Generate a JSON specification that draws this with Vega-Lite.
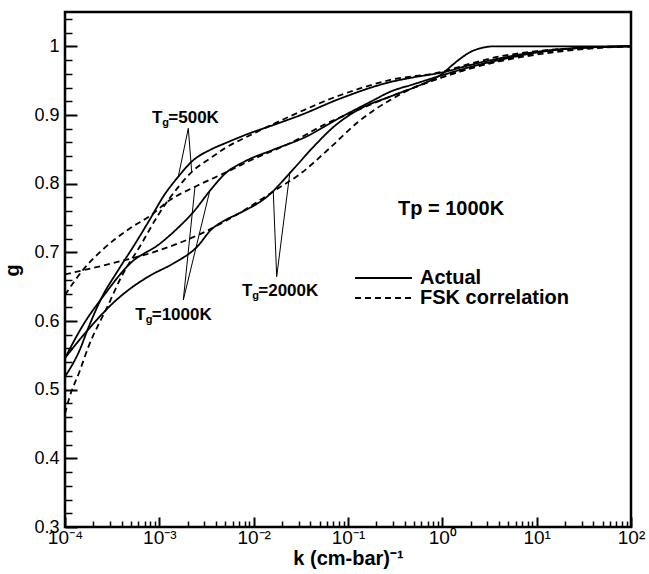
{
  "$schema": "https://vega.github.io/schema/vega-lite/v6.json",
  "width": 566,
  "height": 515,
  "autosize": {"type": "none"},
  "padding": {"left": 65, "top": 12, "right": 18, "bottom": 47},
  "background": "white",
  "config": {
    "view": {"stroke": "black", "strokeWidth": 2.5},
    "font": "Liberation Sans",
    "axis": {"grid": false, "domain": false, "tickColor": "black", "labelColor": "black", "titleColor": "black", "labelOverlap": false, "labelFlush": false, "labelBound": false, "labelFont": "Liberation Sans", "titleFont": "Liberation Sans"}
  },
  "datasets": {
    "curves": [
      {"k": 0.0001, "g": 0.519, "series": "S500", "type": "Actual"},
      {"k": 0.0001413, "g": 0.556, "series": "S500", "type": "Actual"},
      {"k": 0.0001778, "g": 0.591, "series": "S500", "type": "Actual"},
      {"k": 0.0002512, "g": 0.637, "series": "S500", "type": "Actual"},
      {"k": 0.0003548, "g": 0.671, "series": "S500", "type": "Actual"},
      {"k": 0.0005623, "g": 0.714, "series": "S500", "type": "Actual"},
      {"k": 0.0007943, "g": 0.748, "series": "S500", "type": "Actual"},
      {"k": 0.001122, "g": 0.783, "series": "S500", "type": "Actual"},
      {"k": 0.001585, "g": 0.810, "series": "S500", "type": "Actual"},
      {"k": 0.002239, "g": 0.833, "series": "S500", "type": "Actual"},
      {"k": 0.003548, "g": 0.850, "series": "S500", "type": "Actual"},
      {"k": 0.005012, "g": 0.859, "series": "S500", "type": "Actual"},
      {"k": 0.008913, "g": 0.873, "series": "S500", "type": "Actual"},
      {"k": 0.01585, "g": 0.885, "series": "S500", "type": "Actual"},
      {"k": 0.03162, "g": 0.900, "series": "S500", "type": "Actual"},
      {"k": 0.07943, "g": 0.923, "series": "S500", "type": "Actual"},
      {"k": 0.2818, "g": 0.948, "series": "S500", "type": "Actual"},
      {"k": 0.5012, "g": 0.955, "series": "S500", "type": "Actual"},
      {"k": 1, "g": 0.962, "series": "S500", "type": "Actual"},
      {"k": 1.995, "g": 0.973, "series": "S500", "type": "Actual"},
      {"k": 5.012, "g": 0.985, "series": "S500", "type": "Actual"},
      {"k": 10, "g": 0.992, "series": "S500", "type": "Actual"},
      {"k": 31.62, "g": 0.998, "series": "S500", "type": "Actual"},
      {"k": 100, "g": 1.0, "series": "S500", "type": "Actual"},

      {"k": 0.0001, "g": 0.465, "series": "F500", "type": "FSK correlation"},
      {"k": 0.0001122, "g": 0.490, "series": "F500", "type": "FSK correlation"},
      {"k": 0.0001413, "g": 0.525, "series": "F500", "type": "FSK correlation"},
      {"k": 0.0001778, "g": 0.563, "series": "F500", "type": "FSK correlation"},
      {"k": 0.0002818, "g": 0.621, "series": "F500", "type": "FSK correlation"},
      {"k": 0.0003981, "g": 0.665, "series": "F500", "type": "FSK correlation"},
      {"k": 0.000631, "g": 0.710, "series": "F500", "type": "FSK correlation"},
      {"k": 0.001, "g": 0.757, "series": "F500", "type": "FSK correlation"},
      {"k": 0.001585, "g": 0.795, "series": "F500", "type": "FSK correlation"},
      {"k": 0.002239, "g": 0.818, "series": "F500", "type": "FSK correlation"},
      {"k": 0.003548, "g": 0.838, "series": "F500", "type": "FSK correlation"},
      {"k": 0.005012, "g": 0.852, "series": "F500", "type": "FSK correlation"},
      {"k": 0.01, "g": 0.873, "series": "F500", "type": "FSK correlation"},
      {"k": 0.02512, "g": 0.899, "series": "F500", "type": "FSK correlation"},
      {"k": 0.07943, "g": 0.928, "series": "F500", "type": "FSK correlation"},
      {"k": 0.2818, "g": 0.951, "series": "F500", "type": "FSK correlation"},
      {"k": 1, "g": 0.963, "series": "F500", "type": "FSK correlation"},
      {"k": 1.995, "g": 0.975, "series": "F500", "type": "FSK correlation"},
      {"k": 3.981, "g": 0.985, "series": "F500", "type": "FSK correlation"},
      {"k": 10, "g": 0.993, "series": "F500", "type": "FSK correlation"},
      {"k": 31.62, "g": 0.998, "series": "F500", "type": "FSK correlation"},
      {"k": 100, "g": 1.0, "series": "F500", "type": "FSK correlation"},

      {"k": 0.0001, "g": 0.546, "series": "S1000", "type": "Actual"},
      {"k": 0.0001585, "g": 0.596, "series": "S1000", "type": "Actual"},
      {"k": 0.0002512, "g": 0.635, "series": "S1000", "type": "Actual"},
      {"k": 0.0005012, "g": 0.685, "series": "S1000", "type": "Actual"},
      {"k": 0.001, "g": 0.712, "series": "S1000", "type": "Actual"},
      {"k": 0.001585, "g": 0.736, "series": "S1000", "type": "Actual"},
      {"k": 0.002239, "g": 0.757, "series": "S1000", "type": "Actual"},
      {"k": 0.003548, "g": 0.792, "series": "S1000", "type": "Actual"},
      {"k": 0.005012, "g": 0.815, "series": "S1000", "type": "Actual"},
      {"k": 0.007943, "g": 0.832, "series": "S1000", "type": "Actual"},
      {"k": 0.01585, "g": 0.849, "series": "S1000", "type": "Actual"},
      {"k": 0.03548, "g": 0.868, "series": "S1000", "type": "Actual"},
      {"k": 0.07943, "g": 0.895, "series": "S1000", "type": "Actual"},
      {"k": 0.1778, "g": 0.920, "series": "S1000", "type": "Actual"},
      {"k": 0.2818, "g": 0.934, "series": "S1000", "type": "Actual"},
      {"k": 0.5012, "g": 0.945, "series": "S1000", "type": "Actual"},
      {"k": 1, "g": 0.958, "series": "S1000", "type": "Actual"},
      {"k": 1.995, "g": 0.970, "series": "S1000", "type": "Actual"},
      {"k": 5.012, "g": 0.983, "series": "S1000", "type": "Actual"},
      {"k": 10, "g": 0.991, "series": "S1000", "type": "Actual"},
      {"k": 31.62, "g": 0.998, "series": "S1000", "type": "Actual"},
      {"k": 100, "g": 1.0, "series": "S1000", "type": "Actual"},

      {"k": 0.0001, "g": 0.638, "series": "F1000", "type": "FSK correlation"},
      {"k": 0.0001585, "g": 0.676, "series": "F1000", "type": "FSK correlation"},
      {"k": 0.0002512, "g": 0.704, "series": "F1000", "type": "FSK correlation"},
      {"k": 0.0005012, "g": 0.736, "series": "F1000", "type": "FSK correlation"},
      {"k": 0.0007943, "g": 0.753, "series": "F1000", "type": "FSK correlation"},
      {"k": 0.001259, "g": 0.775, "series": "F1000", "type": "FSK correlation"},
      {"k": 0.002512, "g": 0.797, "series": "F1000", "type": "FSK correlation"},
      {"k": 0.005012, "g": 0.816, "series": "F1000", "type": "FSK correlation"},
      {"k": 0.01, "g": 0.836, "series": "F1000", "type": "FSK correlation"},
      {"k": 0.02512, "g": 0.860, "series": "F1000", "type": "FSK correlation"},
      {"k": 0.05623, "g": 0.886, "series": "F1000", "type": "FSK correlation"},
      {"k": 0.1259, "g": 0.907, "series": "F1000", "type": "FSK correlation"},
      {"k": 0.2818, "g": 0.927, "series": "F1000", "type": "FSK correlation"},
      {"k": 0.5012, "g": 0.940, "series": "F1000", "type": "FSK correlation"},
      {"k": 1, "g": 0.955, "series": "F1000", "type": "FSK correlation"},
      {"k": 1.995, "g": 0.968, "series": "F1000", "type": "FSK correlation"},
      {"k": 3.981, "g": 0.978, "series": "F1000", "type": "FSK correlation"},
      {"k": 10, "g": 0.988, "series": "F1000", "type": "FSK correlation"},
      {"k": 31.62, "g": 0.996, "series": "F1000", "type": "FSK correlation"},
      {"k": 100, "g": 1.0, "series": "F1000", "type": "FSK correlation"},

      {"k": 0.0001, "g": 0.546, "series": "S2000", "type": "Actual"},
      {"k": 0.0001413, "g": 0.572, "series": "S2000", "type": "Actual"},
      {"k": 0.0001995, "g": 0.596, "series": "S2000", "type": "Actual"},
      {"k": 0.0003162, "g": 0.625, "series": "S2000", "type": "Actual"},
      {"k": 0.0005012, "g": 0.648, "series": "S2000", "type": "Actual"},
      {"k": 0.0007943, "g": 0.666, "series": "S2000", "type": "Actual"},
      {"k": 0.001413, "g": 0.684, "series": "S2000", "type": "Actual"},
      {"k": 0.002512, "g": 0.708, "series": "S2000", "type": "Actual"},
      {"k": 0.003548, "g": 0.733, "series": "S2000", "type": "Actual"},
      {"k": 0.005012, "g": 0.747, "series": "S2000", "type": "Actual"},
      {"k": 0.007079, "g": 0.757, "series": "S2000", "type": "Actual"},
      {"k": 0.01413, "g": 0.782, "series": "S2000", "type": "Actual"},
      {"k": 0.02512, "g": 0.818, "series": "S2000", "type": "Actual"},
      {"k": 0.04467, "g": 0.856, "series": "S2000", "type": "Actual"},
      {"k": 0.07079, "g": 0.883, "series": "S2000", "type": "Actual"},
      {"k": 0.1259, "g": 0.907, "series": "S2000", "type": "Actual"},
      {"k": 0.2818, "g": 0.927, "series": "S2000", "type": "Actual"},
      {"k": 0.5012, "g": 0.940, "series": "S2000", "type": "Actual"},
      {"k": 0.7943, "g": 0.952, "series": "S2000", "type": "Actual"},
      {"k": 1, "g": 0.960, "series": "S2000", "type": "Actual"},
      {"k": 1.259, "g": 0.972, "series": "S2000", "type": "Actual"},
      {"k": 1.585, "g": 0.983, "series": "S2000", "type": "Actual"},
      {"k": 1.995, "g": 0.992, "series": "S2000", "type": "Actual"},
      {"k": 2.512, "g": 0.997, "series": "S2000", "type": "Actual"},
      {"k": 3.548, "g": 1.0, "series": "S2000", "type": "Actual"},
      {"k": 10, "g": 1.0, "series": "S2000", "type": "Actual"},
      {"k": 100, "g": 1.0, "series": "S2000", "type": "Actual"},

      {"k": 0.0001, "g": 0.668, "series": "F2000", "type": "FSK correlation"},
      {"k": 0.0003162, "g": 0.684, "series": "F2000", "type": "FSK correlation"},
      {"k": 0.001, "g": 0.703, "series": "F2000", "type": "FSK correlation"},
      {"k": 0.003162, "g": 0.731, "series": "F2000", "type": "FSK correlation"},
      {"k": 0.01, "g": 0.770, "series": "F2000", "type": "FSK correlation"},
      {"k": 0.01585, "g": 0.788, "series": "F2000", "type": "FSK correlation"},
      {"k": 0.03162, "g": 0.815, "series": "F2000", "type": "FSK correlation"},
      {"k": 0.0631, "g": 0.851, "series": "F2000", "type": "FSK correlation"},
      {"k": 0.1259, "g": 0.889, "series": "F2000", "type": "FSK correlation"},
      {"k": 0.2818, "g": 0.922, "series": "F2000", "type": "FSK correlation"},
      {"k": 0.5012, "g": 0.940, "series": "F2000", "type": "FSK correlation"},
      {"k": 1, "g": 0.955, "series": "F2000", "type": "FSK correlation"},
      {"k": 1.995, "g": 0.968, "series": "F2000", "type": "FSK correlation"},
      {"k": 3.981, "g": 0.979, "series": "F2000", "type": "FSK correlation"},
      {"k": 10, "g": 0.990, "series": "F2000", "type": "FSK correlation"},
      {"k": 31.62, "g": 0.997, "series": "F2000", "type": "FSK correlation"},
      {"k": 100, "g": 1.0, "series": "F2000", "type": "FSK correlation"}
    ],
    "pointers": [
      {"k": 0.002028, "g": 0.8806, "k2": 0.001589, "g2": 0.8102},
      {"k": 0.002028, "g": 0.8806, "k2": 0.002203, "g2": 0.8174},
      {"k": 0.001795, "g": 0.6306, "k2": 0.002388, "g2": 0.7956},
      {"k": 0.001795, "g": 0.6306, "k2": 0.003443, "g2": 0.7908},
      {"k": 0.01754, "g": 0.6645, "k2": 0.01614, "g2": 0.7883},
      {"k": 0.01754, "g": 0.6645, "k2": 0.02427, "g2": 0.8174}
    ],
    "tglabels": [
      {"k": 0.001245, "g": 0.888, "rest": "=500K"},
      {"k": 0.00083, "g": 0.601, "rest": "=1000K"},
      {"k": 0.01119, "g": 0.6364, "rest": "=2000K"}
    ],
    "tp": [
      {"k": 1.236, "g": 0.7544, "text": "Tp = 1000K"}
    ]
  },
  "encoding": {
    "x": {
      "field": "k", "type": "quantitative",
      "scale": {"type": "log", "domain": [0.0001, 100], "nice": false},
      "axis": {
        "title": "k (cm-bar)⁻¹",
        "values": [0.0001,0.0002,0.0003,0.0004,0.0005,0.0006,0.0007,0.0008,0.0009,0.001,0.002,0.003,0.004,0.005,0.006,0.007,0.008,0.009,0.01,0.02,0.03,0.04,0.05,0.06,0.07,0.08,0.09,0.1,0.2,0.3,0.4,0.5,0.6,0.7,0.8,0.9,1,2,3,4,5,6,7,8,9,10,20,30,40,50,60,70,80,90,100],
        "labelExpr": "datum.value == 0.0001 ? '10⁻⁴' : datum.value == 0.001 ? '10⁻³' : datum.value == 0.01 ? '10⁻²' : datum.value == 0.1 ? '10⁻¹' : datum.value == 1 ? '10⁰' : datum.value == 10 ? '10¹' : datum.value == 100 ? '10²' : ''",
        "tickSize": {"condition": {"test": "indexof([0.0001,0.001,0.01,0.1,1,10,100], datum.value) >= 0", "value": -10}, "value": -6},
        "tickWidth": {"condition": {"test": "indexof([0.0001,0.001,0.01,0.1,1,10,100], datum.value) >= 0", "value": 2}, "value": 1.5},
        "labelFontSize": 19,
        "labelPadding": 11,
        "labelAlign": "center",
        "labelBaseline": "top",
        "titleFontSize": 20,
        "titleFontWeight": "bold",
        "titleY": 37,
        "titleBaseline": "alphabetic"
      }
    },
    "y": {
      "field": "g", "type": "quantitative",
      "scale": {"domain": [0.3, 1.05], "nice": false, "zero": false},
      "axis": {
        "title": "g",
        "values": [0.3,0.32,0.34,0.36,0.38,0.4,0.42,0.44,0.46,0.48,0.5,0.52,0.54,0.56,0.58,0.6,0.62,0.64,0.66,0.68,0.7,0.72,0.74,0.76,0.78,0.8,0.82,0.84,0.86,0.88,0.9,0.92,0.94,0.96,0.98,1,1.02,1.04],
        "labelExpr": "abs(datum.value*10 - round(datum.value*10)) < 0.001 ? (datum.value == 1 ? '1' : format(datum.value, '.1f')) : ''",
        "tickSize": {"condition": {"test": "abs(datum.value*10 - round(datum.value*10)) < 0.001", "value": -12}, "value": -7},
        "tickWidth": {"condition": {"test": "abs(datum.value*10 - round(datum.value*10)) < 0.001", "value": 2}, "value": 1.5},
        "labelFontSize": 18,
        "labelPadding": 18,
        "labelBaseline": "middle",
        "titleFontSize": 20,
        "titleFontWeight": "bold",
        "titleAngle": 270,
        "titleX": -47,
        "titleY": 258,
        "titleAlign": "center",
        "titleBaseline": "alphabetic"
      }
    }
  },
  "layer": [
    {
      "data": {"name": "curves"},
      "mark": {"type": "line", "interpolate": "monotone", "strokeWidth": 1.8, "color": "black", "clip": true},
      "encoding": {
        "detail": {"field": "series", "type": "nominal"},
        "strokeDash": {
          "field": "type", "type": "nominal",
          "scale": {"domain": ["Actual", "FSK correlation"], "range": [[1, 0], [6, 4]]},
          "legend": {
            "title": null, "orient": "none", "legendX": 308.5, "legendY": 256,
            "symbolType": "M-5.7,0H5.7", "symbolSize": 100, "symbolStrokeWidth": 1.8, "symbolStrokeColor": "black",
            "labelFont": "Liberation Sans", "labelFontSize": 20, "labelFontWeight": "bold", "labelColor": "black",
            "labelOffset": 26.5, "rowPadding": 0, "padding": 0
          }
        }
      }
    },
    {
      "data": {"name": "pointers"},
      "mark": {"type": "rule", "color": "black", "strokeWidth": 1},
      "encoding": {
        "x2": {"field": "k2"},
        "y2": {"field": "g2"}
      }
    },
    {
      "data": {"name": "tglabels"},
      "mark": {"type": "text", "font": "Liberation Sans", "fontSize": 17, "fontWeight": "bold", "align": "right", "baseline": "alphabetic", "dx": -6, "color": "black"},
      "encoding": {"text": {"value": "T"}}
    },
    {
      "data": {"name": "tglabels"},
      "mark": {"type": "text", "font": "Liberation Sans", "fontSize": 11, "fontWeight": "bold", "align": "left", "baseline": "alphabetic", "dx": -6, "dy": 3, "color": "black"},
      "encoding": {"text": {"value": "g"}}
    },
    {
      "data": {"name": "tglabels"},
      "mark": {"type": "text", "font": "Liberation Sans", "fontSize": 17, "fontWeight": "bold", "align": "left", "baseline": "alphabetic", "color": "black"},
      "encoding": {"text": {"field": "rest"}}
    },
    {
      "data": {"name": "tp"},
      "mark": {"type": "text", "font": "Liberation Sans", "fontSize": 20, "fontWeight": "bold", "align": "center", "baseline": "alphabetic", "color": "black"},
      "encoding": {"text": {"field": "text"}}
    }
  ]
}
